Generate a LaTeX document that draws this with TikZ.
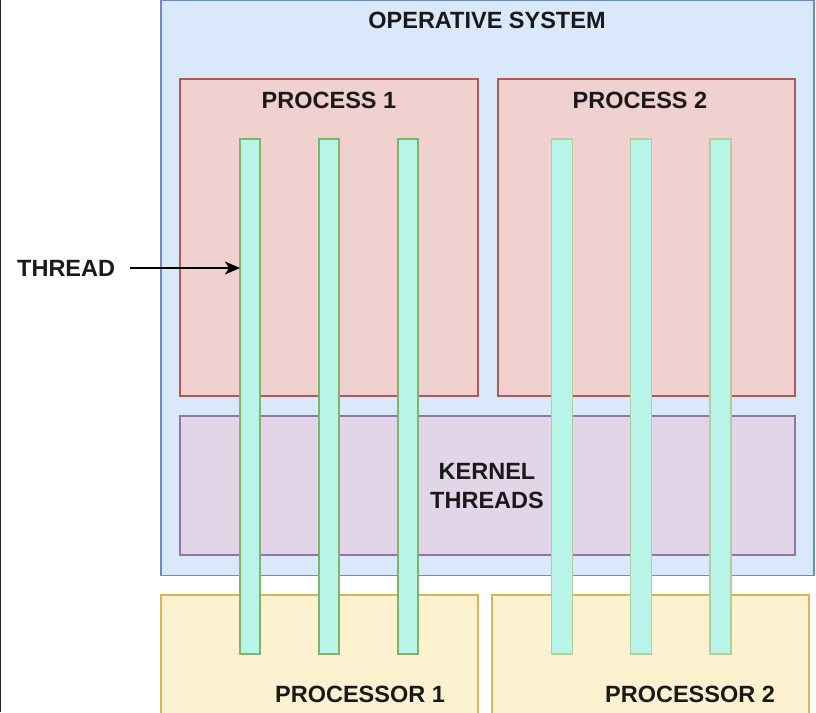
\documentclass[tikz,border=0pt]{standalone}
\usepackage{fontspec}
\setmainfont{Liberation Sans}
\usetikzlibrary{arrows.meta}
\definecolor{osfill}{HTML}{DAE8FC}
\definecolor{osline}{HTML}{6C8EBF}
\definecolor{prfill}{HTML}{F1D1CF}
\definecolor{prline}{HTML}{B05A55}
\definecolor{kfill}{HTML}{E1D5E7}
\definecolor{kline}{HTML}{9673A6}
\definecolor{cpufill}{HTML}{FDF2D0}
\definecolor{cpuline}{HTML}{D6B656}
\definecolor{thfill}{HTML}{B8F5E8}
\definecolor{thline}{HTML}{82B366}
\definecolor{thlinelight}{HTML}{B2D09C}
\tikzset{
  box/.style={draw, line width=1.6pt, inner sep=0pt, outer sep=0pt, anchor=north west},
  thr/.style={box, fill=thfill, draw=thline, minimum width=20pt, minimum height=515pt},
  lab/.style={font=\fontsize{23.5}{29}\selectfont\bfseries, text=black!90, align=center, inner sep=0pt}
}
\begin{document}
\begin{tikzpicture}[x=1pt,y=-1pt]
\useasboundingbox (0,0) rectangle (816,712);
\fill[white] (0,0) rectangle (816,712);
\draw[line width=1.5pt, black!85] (0.6,0) -- (0.6,712);
% operating system
\node[box, fill=osfill, draw=osline, minimum width=653pt, minimum height=575pt] (os) at (161,0.5) {};
\node[lab] (oslab) at (487,20) {OPERATIVE SYSTEM};
% processes
\node[box, fill=prfill, draw=prline, minimum width=298pt, minimum height=317pt] (p1) at (180,79) {};
\node[lab] (p1lab) at (329,100) {PROCESS 1};
\node[box, fill=prfill, draw=prline, minimum width=297pt, minimum height=317pt] (p2) at (498,79) {};
\node[lab] (p2lab) at (640,100) {PROCESS 2};
% kernel
\node[box, fill=kfill, draw=kline, minimum width=615pt, minimum height=139pt] (kern) at (180,416) {};
\node[lab, font=\fontsize{23.5}{28.5}\selectfont\bfseries] (kernlab) at (487,486) {KERNEL\\THREADS};
% processors
\node[box, fill=cpufill, draw=cpuline, minimum width=317pt, minimum height=130pt] (cpu1) at (161,595) {};
\node[lab] (cpu1lab) at (360,694) {PROCESSOR 1};
\node[box, fill=cpufill, draw=cpuline, minimum width=317pt, minimum height=130pt] (cpu2) at (492,595) {};
\node[lab] (cpu2lab) at (690,694) {PROCESSOR 2};
% threads
\node[thr] (t1) at (240,139) {};
\node[thr] (t2) at (319,139) {};
\node[thr] (t3) at (398,139) {};
\node[thr, draw=thlinelight, minimum width=21pt] (t4) at (551.5,139) {};
\node[thr, draw=thlinelight, minimum width=21pt] (t5) at (630.5,139) {};
\node[thr, draw=thlinelight, minimum width=21pt] (t6) at (710,139) {};
% thread label
\node[lab, anchor=west, inner xsep=0pt] (tlab) at (17,268) {THREAD};
\coordinate (tstart) at (130,268);
\draw[line width=1.8pt, -{Stealth[length=15pt,width=13pt,inset=4pt]}] (tstart) -- (tstart -| t1.west);
\end{tikzpicture}
\end{document}
